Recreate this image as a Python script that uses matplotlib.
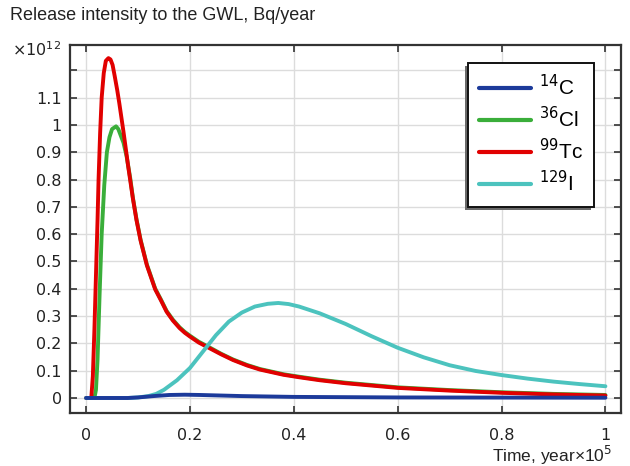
import matplotlib
matplotlib.use("Agg")
import matplotlib.pyplot as plt
from matplotlib.patches import Rectangle

# ---- data (time in units of 1e5 years, intensity in units of 1e12 Bq/year) ----
t_tc = [0.000, 0.010, 0.013, 0.016, 0.019, 0.022, 0.024, 0.027, 0.030, 0.034, 0.038,
        0.043, 0.047, 0.051, 0.055, 0.060, 0.064, 0.072, 0.081, 0.090, 0.097, 0.105,
        0.117, 0.133, 0.144, 0.155, 0.167, 0.180, 0.190, 0.200, 0.217, 0.235, 0.260,
        0.283, 0.310, 0.335, 0.380, 0.410, 0.450, 0.500, 0.600, 0.700, 0.800, 0.900, 1.000]
tc99 = [0.0, 0.0, 0.08, 0.25, 0.45, 0.65, 0.80, 0.97, 1.10, 1.19, 1.235,
        1.245, 1.24, 1.22, 1.18, 1.127, 1.079, 0.975, 0.849, 0.732, 0.652, 0.576,
        0.486, 0.398, 0.358, 0.316, 0.284, 0.256, 0.239, 0.225, 0.203, 0.185, 0.160,
        0.139, 0.119, 0.104, 0.085, 0.076, 0.065, 0.054, 0.037, 0.027, 0.019, 0.013, 0.009]

t_cl = [0.000, 0.016, 0.019, 0.022, 0.026, 0.030, 0.035, 0.040, 0.045, 0.050, 0.0577,
        0.062, 0.066, 0.072, 0.078, 0.085, 0.090, 0.097, 0.105, 0.117, 0.133, 0.144,
        0.155, 0.167, 0.180, 0.190, 0.200, 0.217, 0.235, 0.260, 0.283, 0.310, 0.335,
        0.380, 0.410, 0.450, 0.500, 0.600, 0.700, 0.800, 0.900, 1.000]
cl36 = [0.0, 0.0, 0.03, 0.14, 0.38, 0.60, 0.78, 0.90, 0.955, 0.985, 0.995,
        0.985, 0.965, 0.935, 0.885, 0.805, 0.735, 0.655, 0.579, 0.489, 0.401, 0.361,
        0.319, 0.287, 0.259, 0.242, 0.228, 0.206, 0.188, 0.162, 0.141, 0.121, 0.106,
        0.087, 0.078, 0.067, 0.056, 0.039, 0.029, 0.021, 0.015, 0.011]

t_c = [0.0, 0.08, 0.10, 0.13, 0.16, 0.19, 0.22, 0.26, 0.30, 0.40, 0.50, 0.60, 0.80, 1.00]
c14 = [0.0, 0.0, 0.002, 0.007, 0.011, 0.012, 0.011, 0.009, 0.007, 0.004, 0.003, 0.002, 0.0015, 0.001]

t_i = [0.0, 0.08, 0.10, 0.12, 0.135, 0.15, 0.175, 0.20, 0.225, 0.25, 0.275, 0.30, 0.325,
       0.35, 0.37, 0.39, 0.41, 0.45, 0.50, 0.55, 0.60, 0.65, 0.70, 0.75, 0.80, 0.85,
       0.90, 0.95, 1.00]
i129 = [0.0, 0.0, 0.002, 0.007, 0.015, 0.03, 0.065, 0.11, 0.17, 0.23, 0.28, 0.313, 0.335,
        0.345, 0.348, 0.344, 0.335, 0.31, 0.271, 0.226, 0.184, 0.149, 0.120, 0.099, 0.084,
        0.071, 0.060, 0.051, 0.043]

labels = ["$^{14}$C", "$^{36}$Cl", "$^{99}$Tc", "$^{129}$I"]
colors = ["#1c3a9a", "#3aae3a", "#e10000", "#4cc3be"]
xticks = [0, 0.2, 0.4, 0.6, 0.8, 1.0]
xticklabels = ["0", "0.2", "0.4", "0.6", "0.8", "1"]
yticks = [0, 0.1, 0.2, 0.3, 0.4, 0.5, 0.6, 0.7, 0.8, 0.9, 1.0, 1.1, 1.2]
yticklabels = ["0", "0.1", "0.2", "0.3", "0.4", "0.5", "0.6", "0.7", "0.8", "0.9", "1", "1.1", ""]

W, H = 630, 466
fig = plt.figure(figsize=(W / 100, H / 100), dpi=100)
ax = fig.add_axes([70 / W, 1 - 413 / H, (621 - 70) / W, (413 - 45) / H])

lw = 2.8
series = [(t_c, c14), (t_cl, cl36), (t_tc, tc99), (t_i, i129)]
order = [1, 2, 3, 0]
lines = {}
for k in order:
    tt, vv = series[k]
    ln, = ax.plot(tt, vv, color=colors[k], lw=lw, solid_joinstyle="round",
                  solid_capstyle="round", label=labels[k], zorder=3)
    lines[k] = ln

ax.set_xlim(-0.031, 1.03)
ax.set_ylim(-0.055, 1.293)
ax.set_xticks(xticks)
ax.set_xticklabels(xticklabels)
ax.set_yticks(yticks)
ax.set_yticklabels(yticklabels)
ax.grid(True, color="#dcdcdc", lw=1.0, zorder=0)
ax.tick_params(direction="in", length=5, width=1.2, color="#333333",
               top=True, right=True, labelsize=11.5)
ax.tick_params(axis="y", pad=6)
ax.tick_params(axis="x", pad=11)
for lab in ax.get_xticklabels() + ax.get_yticklabels():
    lab.set_fontfamily("DejaVu Sans")
    lab.set_color("#222222")
for s in ax.spines.values():
    s.set_color("#333333")
    s.set_linewidth(1.6)

fig.text(10 / W, 1 - 16 / H, "Release intensity to the GWL, Bq/year",
         fontsize=13, family="Liberation Sans", va="center", ha="left", color="#222222")
fig.text(12 / W, 1 - 50 / H, "×10$^{12}$", fontsize=11.5, family="DejaVu Sans",
         va="center", ha="left", color="#222222")
fig.text(612 / W, 1 - 455 / H, "Time, year×10$^{5}$", fontsize=12.5,
         family="Liberation Sans", va="center", ha="right", color="#222222")

handles = [lines[0], lines[1], lines[2], lines[3]]
leg = fig.legend(handles, labels, loc="upper left",
                 bbox_to_anchor=(468 / W, 1 - 63 / H), borderaxespad=0,
                 prop={"family": "Liberation Sans", "size": 15},
                 handlelength=2.45, handletextpad=0.4, labelspacing=0.32,
                 borderpad=0.55, fancybox=False, framealpha=1, edgecolor="#111111")
leg.get_frame().set_linewidth(1.4)
for h in leg.legend_handles:
    h.set_linewidth(3)

fig.canvas.draw()
bb = leg.get_window_extent()
shadow = Rectangle((bb.x0 - 3, bb.y0 - 3), bb.width, bb.height, transform=None,
                   facecolor="#6a6a6a", edgecolor="none", zorder=4)
fig.add_artist(shadow)

fig.savefig("out.png", dpi=100)
